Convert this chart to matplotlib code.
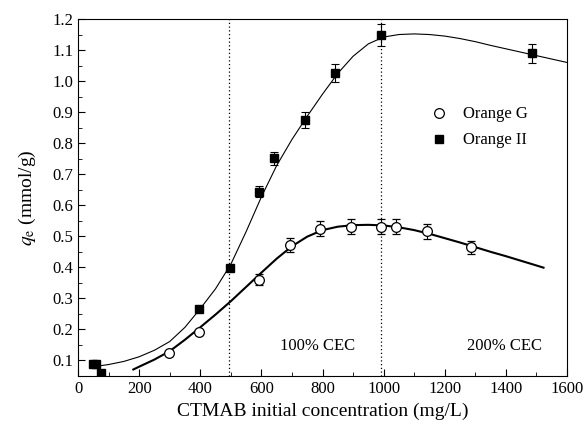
import matplotlib
matplotlib.use("Agg")
import matplotlib.pyplot as plt
import matplotlib.ticker as plticker

plt.rcParams['font.family'] = ['Liberation Serif', 'DejaVu Serif']
plt.rcParams['mathtext.fontset'] = 'stix'

# measured adsorption, Orange II
oii_x = [50, 60, 75, 397, 497, 593, 642, 743, 841, 990, 1485]
oii_q = [0.09, 0.09, 0.06, 0.267, 0.399, 0.644, 0.751, 0.874, 1.026, 1.149, 1.089]
oii_err = [0, 0, 0, 0.004, 0.004, 0.018, 0.022, 0.025, 0.03, 0.035, 0.032]

# measured adsorption, Orange G
og_x = [299, 397, 593, 692, 792, 892, 990, 1040, 1141, 1285]
og_q = [0.123, 0.191, 0.36, 0.471, 0.525, 0.531, 0.531, 0.531, 0.516, 0.464]
og_err = [0.008, 0.008, 0.017, 0.022, 0.025, 0.025, 0.025, 0.025, 0.025, 0.02]

# fitted curves
fit_oii_x = [72, 100, 150, 200, 250, 300, 350, 400, 450, 500, 550, 600, 650, 700,
             750, 800, 850, 900, 950, 1000, 1050, 1100, 1150, 1200, 1250, 1300,
             1350, 1400, 1450, 1500, 1550, 1600]
fit_oii_q = [0.083, 0.087, 0.097, 0.112, 0.133, 0.161, 0.207, 0.267, 0.331, 0.410,
             0.515, 0.627, 0.728, 0.812, 0.887, 0.958, 1.025, 1.080, 1.120, 1.142,
             1.150, 1.152, 1.150, 1.145, 1.137, 1.127, 1.115, 1.104, 1.093, 1.082,
             1.071, 1.060]

fit_og_x = [181, 200, 250, 300, 350, 400, 450, 500, 550, 600, 650, 700, 750, 800,
            850, 900, 950, 1000, 1050, 1100, 1150, 1200, 1250, 1300, 1350, 1400,
            1450, 1500, 1523]
fit_og_q = [0.071, 0.080, 0.103, 0.130, 0.167, 0.207, 0.248, 0.291, 0.337, 0.383,
            0.428, 0.468, 0.499, 0.520, 0.531, 0.536, 0.537, 0.535, 0.529, 0.520,
            0.508, 0.494, 0.480, 0.465, 0.450, 0.436, 0.421, 0.406, 0.399]

cec_lines = [495, 990]
cec_labels = ['100% CEC', '200% CEC']
cec_label_x = [783, 1394]

fig = plt.figure(figsize=(5.87, 4.32), dpi=100)
ax = fig.add_axes([0.1329, 0.1296, 0.8331, 0.8264])

for xv in cec_lines:
    ax.axvline(xv, color='black', linestyle=(0, (1, 2)), linewidth=0.9)

ax.plot(fit_oii_x, fit_oii_q, color='black', linewidth=0.8)
ax.plot(fit_og_x, fit_og_q, color='black', linewidth=1.5)

ax.errorbar(og_x, og_q, yerr=og_err, fmt='o', markersize=7, mfc='white',
            mec='black', mew=0.9, ecolor='black', elinewidth=0.8, capsize=3,
            capthick=0.8, label='Orange G', zorder=3)
ax.errorbar(oii_x, oii_q, yerr=oii_err, fmt='s', markersize=6, mfc='black',
            mec='black', ecolor='black', elinewidth=0.8, capsize=3,
            capthick=0.8, label='Orange II', zorder=4)

for xt, txt in zip(cec_label_x, cec_labels):
    ax.text(xt, 0.146, txt, ha='center', va='center', fontsize=12)

ax.set_xlim(0, 1600)
ax.set_ylim(0.05, 1.2)
ax.xaxis.set_major_locator(plticker.MultipleLocator(200))
ax.xaxis.set_minor_locator(plticker.MultipleLocator(100))
ax.yaxis.set_major_locator(plticker.MultipleLocator(0.1))
ax.yaxis.set_minor_locator(plticker.MultipleLocator(0.05))
ax.yaxis.set_major_formatter(plticker.FormatStrFormatter('%.1f'))
ax.tick_params(which='both', direction='in', top=False, right=False)
ax.tick_params(which='major', length=5, labelsize=12)
ax.tick_params(which='minor', length=3)

ax.set_xlabel('CTMAB initial concentration (mg/L)', fontsize=14)
ax.set_ylabel('$q_\\mathrm{e}$ (mmol/g)', fontsize=14, labelpad=10)

handles, labels = ax.get_legend_handles_labels()
handles = [h[0] for h in handles]
ax.legend(handles, labels, loc='upper left', bbox_to_anchor=(0.688, 0.797),
          frameon=False, fontsize=12, handletextpad=0.8, labelspacing=0.6,
          handlelength=1.2)

fig.savefig('out.png', dpi=100)
